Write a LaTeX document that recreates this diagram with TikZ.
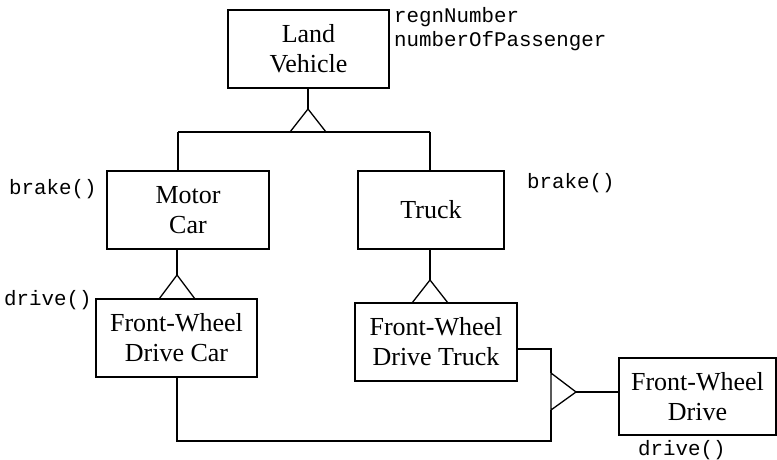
\documentclass[tikz,border=0pt]{standalone}
\usepackage{fontspec}
\setmainfont{Liberation Serif}
\setmonofont{Liberation Mono}
\begin{document}
\begin{tikzpicture}[x=1pt,y=-1pt,
  cls/.style={draw,line width=1.3pt,rectangle,inner sep=0pt,align=center,
    font=\fontsize{26}{30}\selectfont},
  attr/.style={inner sep=0pt,align=left,font=\ttfamily\fontsize{20.8}{24}\selectfont},
  ln/.style={line width=1.3pt},
  tri/.style={line width=1.3pt,line join=miter}]
\useasboundingbox (0,0) rectangle (777,460);
% classes
\node[cls,minimum width=161pt,minimum height=78pt] (lv) at (308.5,49) {Land\\Vehicle};
\node[cls,minimum width=162pt,minimum height=78pt] (mc) at (188,210) {Motor\\Car};
\node[cls,minimum width=146pt,minimum height=78pt] (tr) at (431,210) {Truck};
\node[cls,minimum width=161pt,minimum height=78pt] (fwc) at (176.5,338) {Front-Wheel\\Drive Car};
\node[cls,minimum width=162pt,minimum height=78pt] (fwt) at (436,342) {Front-Wheel\\Drive Truck};
\node[cls,minimum width=157pt,minimum height=77pt] (fwd) at (697.5,396.5) {Front-Wheel\\Drive};
% labels
\node[attr,anchor=north west] (lvattr) at (394,7) {regnNumber\\numberOfPassenger};
\node[attr,anchor=west] (mcop) at (9,189) {brake()};
\node[attr,anchor=west] (trop) at (527,183) {brake()};
\node[attr,anchor=west] (fwcop) at (4,300) {drive()};
\node[attr,anchor=west] (fwdop) at (638,450) {drive()};
% generalisation: Land Vehicle
\coordinate (a1) at (308,109);
\coordinate (j1) at (178,132);
\coordinate (j2) at (430,132);
\draw[ln] (lv.south -| a1) -- (a1);
\draw[tri] (a1) -- (290,132) -- (326,132) -- cycle;
\draw[ln] (j1) -- (j2);
\draw[ln] (j1) -- (j1 |- mc.north);
\draw[ln] (j2) -- (j2 |- tr.north);
% Motor Car -> FW Drive Car
\coordinate (a2) at (177,275);
\draw[ln] (mc.south -| a2) -- (a2);
\draw[tri] (a2) -- (159,299) -- (195,299) -- cycle;
% Truck -> FW Drive Truck
\coordinate (a3) at (430,280);
\draw[ln] (tr.south -| a3) -- (a3);
\draw[tri] (a3) -- (412,303) -- (448,303) -- cycle;
% FW Drive
\coordinate (a4) at (576,392);
\coordinate (b4) at (551,441);
\coordinate (c4) at (551,349);
\draw[tri] (551,373) -- (a4) -- (551,410) -- cycle;
\draw[ln] (a4) -- (fwd.west |- a4);
\draw[ln] (fwc.south -| 177,0) -- (177,441) -- (b4) -- (551,410);
\draw[ln] (fwt.east |- c4) -- (c4) -- (551,373);
\end{tikzpicture}
\end{document}
